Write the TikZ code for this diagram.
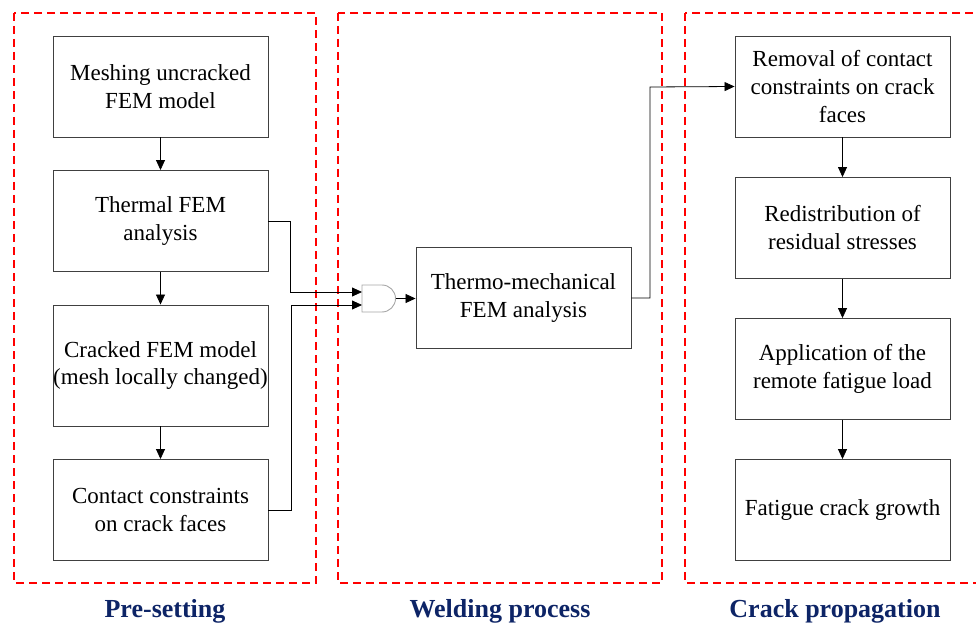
\documentclass[tikz,border=0pt]{standalone}
\usepackage{fontspec}
\setmainfont{Liberation Serif}
\usetikzlibrary{arrows.meta}
\definecolor{navy}{HTML}{0D2466}
\definecolor{boxline}{HTML}{404040}
\begin{document}
\begin{tikzpicture}[x=1pt,y=-1pt,
  stepbox/.style={draw=boxline,line width=0.9pt,minimum width=215pt,minimum height=101pt,align=center,font=\fontsize{23}{28}\selectfont,inner sep=0pt},
  region/.style={draw=red,line width=1.3pt,dash pattern=on 8pt off 5pt},
  conn/.style={draw=black,line width=0.8pt,-{Triangle[length=10pt,width=9pt]}},
  title/.style={font=\fontsize{26}{30}\selectfont\bfseries,text=navy}]
\clip (0,0) rectangle (976,628);
\useasboundingbox (0,0) rectangle (976,628);
% regions
\draw[region] (14,13) rectangle (316,583);
\draw[region] (338,13) rectangle (662,583);
\draw[region] (685,13) rectangle (1000,583);
% boxes
\node[stepbox] (mesh) at (160.5,86.5) {Meshing uncracked\\FEM model};
\node[stepbox] (therm) at (160.5,221) {Thermal FEM\\analysis};
\node[stepbox,minimum height=121pt] (crack) at (160.5,365.5) {Cracked FEM model\\(mesh locally changed)};
\node[stepbox] (contact) at (160.5,510) {Contact constraints\\on crack faces};
\node[stepbox] (tm) at (523.5,298) {Thermo-mechanical\\FEM analysis};
\node[stepbox] (rem) at (842.5,86.5) {Removal of contact\\constraints on crack\\faces};
\node[stepbox] (red) at (842.5,228) {Redistribution of\\residual stresses};
\node[stepbox] (app) at (842.5,369) {Application of the\\remote fatigue load};
\node[stepbox] (fat) at (842.5,510) {Fatigue crack growth};
% gate
\draw[draw=black!35,line width=0.9pt,fill=white] (362,285) -- (382,285) arc[start angle=-90,end angle=90,radius=13.5] -- (362,312) -- cycle;
\coordinate (in1) at (362,292);
\coordinate (in2) at (362,305);
\coordinate (gout) at (395.5,298.5);
% connectors
\draw[conn] (mesh) -- (therm);
\draw[conn] (therm) -- (crack);
\draw[conn] (crack) -- (contact);
\draw[conn] (therm.east) -| (290,292) -- (in1);
\draw[conn] (contact.east) -| (291,305) -- (in2);
\draw[conn] (gout) -- (tm.west |- gout);
\draw[conn] (tm.east) -| (650,87) -- (rem.west);
\draw[conn] (rem) -- (red);
\draw[conn] (red) -- (app);
\draw[conn] (app) -- (fat);
% titles
\node[title] (t1) at (165,611) {Pre-setting};
\node[title] (t2) at (500,611) {Welding process};
\node[title] (t3) at (835,611) {Crack propagation};
\end{tikzpicture}
\end{document}
